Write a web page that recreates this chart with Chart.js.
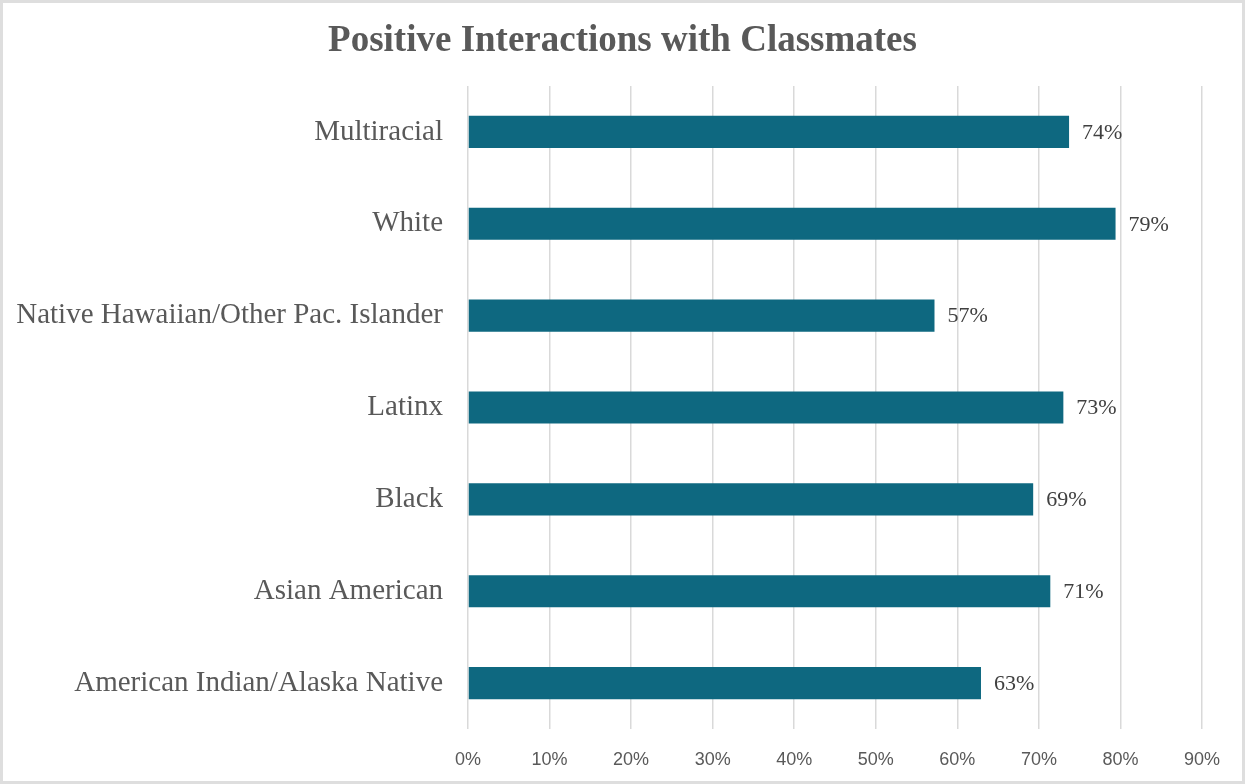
<!DOCTYPE html>
<html>
<head>
<meta charset="utf-8">
<script src="https://cdn.jsdelivr.net/npm/chart.js@4/dist/chart.umd.min.js"></script>
<style>
  html, body { margin: 0; padding: 0; background: #fff; }
  #wrap { width: 1245px; height: 784px; }
</style>
</head>
<body>
<div id="wrap"><canvas id="myChart" width="1245" height="784"></canvas></div>
<script>
// chart values, top to bottom as in the picture
const categories = [
  'Multiracial',
  'White',
  'Native Hawaiian/Other Pac. Islander',
  'Latinx',
  'Black',
  'Asian American',
  'American Indian/Alaska Native'
];
const positiveShare = [0.737, 0.794, 0.572, 0.730, 0.693, 0.714, 0.629];
const tickValues = [0, 0.1, 0.2, 0.3, 0.4, 0.5, 0.6, 0.7, 0.8, 0.9];
const chartTitle = 'Positive Interactions with Classmates';

const pct = v => Math.round(v * 100) + '%';

// frame + title + value labels next to the bars
const extras = {
  id: 'extras',
  beforeDraw(chart) {
    const ctx = chart.ctx;
    ctx.save();
    ctx.fillStyle = '#fff';
    ctx.fillRect(0, 0, chart.width, chart.height);
    ctx.restore();
  },
  afterDraw(chart) {
    const ctx = chart.ctx;
    ctx.save();
    ctx.strokeStyle = '#dedede';
    ctx.lineWidth = 3;
    ctx.strokeRect(1.5, 1.5, chart.width - 3, chart.height - 3);

    ctx.fillStyle = '#595959';
    ctx.font = 'bold 37px "Liberation Serif", "Times New Roman", serif';
    ctx.textAlign = 'center';
    ctx.textBaseline = 'alphabetic';
    ctx.fillText(chartTitle, 622.5, 51);

    const meta = chart.getDatasetMeta(0);
    ctx.fillStyle = '#404040';
    ctx.font = '22px "Liberation Serif", "Times New Roman", serif';
    ctx.textAlign = 'left';
    ctx.textBaseline = 'middle';
    meta.data.forEach((bar, i) => {
      ctx.fillText(pct(positiveShare[i]), bar.x + 13, bar.y + 1);
    });
    ctx.restore();
  }
};

new Chart(document.getElementById('myChart'), {
  type: 'bar',
  data: {
    labels: categories,
    datasets: [{
      data: positiveShare,
      backgroundColor: '#0e6880',
      borderWidth: 0,
      barPercentage: 0.35,
      categoryPercentage: 1
    }]
  },
  options: {
    indexAxis: 'y',
    responsive: false,
    animation: false,
    devicePixelRatio: 1,
    layout: { padding: { top: 86, right: 43, left: 0, bottom: 0 } },
    plugins: {
      legend: { display: false },
      title: { display: false },
      tooltip: { enabled: false }
    },
    scales: {
      x: {
        min: 0,
        max: 0.9,
        afterBuildTicks: axis => { axis.ticks = tickValues.map(v => ({ value: v })); },
        afterFit: axis => { axis.height = 55; },
        grid: { color: '#d9d9d9', lineWidth: 1.5, drawTicks: false },
        border: { display: false },
        ticks: {
          padding: 20,
          color: '#595959',
          font: { family: '"Liberation Sans", Arial, sans-serif', size: 18 },
          callback: v => pct(v)
        }
      },
      y: {
        afterFit: axis => { axis.width = 468; },
        grid: { display: false, drawTicks: false },
        border: { display: false },
        ticks: {
          padding: 25,
          color: '#595959',
          font: { family: '"Liberation Serif", "Times New Roman", serif', size: 29 }
        }
      }
    }
  },
  plugins: [extras]
});
</script>
</body>
</html>
